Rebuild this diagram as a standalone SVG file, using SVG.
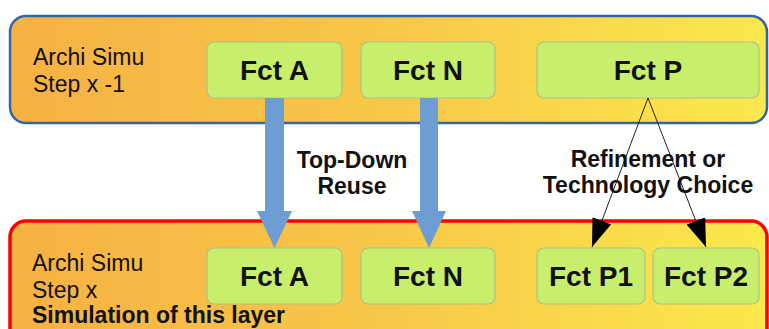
<svg xmlns="http://www.w3.org/2000/svg" width="769" height="329" viewBox="0 0 769 329">
<defs>
<linearGradient id="gOrange" x1="0" y1="0" x2="1" y2="0">
<stop offset="0" stop-color="#f6b143"/>
<stop offset="0.5" stop-color="#f8c848"/>
<stop offset="1" stop-color="#fbe94c"/>
</linearGradient>
<marker id="ah" markerUnits="userSpaceOnUse" markerWidth="30" markerHeight="22" refX="28" refY="10" orient="auto" viewBox="0 0 30 22">
<path d="M0,0 L28,10 L0,20 z" fill="#000"/>
</marker>
<style>
.layer{fill:url(#gOrange);}
.top{stroke:#3465a4;stroke-width:2.5;}
.bot{stroke:#ff0000;stroke-width:3.5;}
.fct rect{fill:#c8ef6c;stroke:#a8c28a;stroke-width:1.2;}
.fct text{font-family:"Liberation Sans",Arial,sans-serif;font-weight:bold;font-size:28px;text-anchor:middle;fill:#111;}
.lbl{font-family:"Liberation Sans",Arial,sans-serif;font-size:23px;fill:#111;}
.b{font-weight:bold;}
.mid{text-anchor:middle;}
.big{fill:#6d9dd3;}
.thin{stroke:#222;stroke-width:1;fill:none;marker-end:url(#ah);}
</style>
</defs>
<rect width="769" height="329" fill="#ffffff"/>
<g id="layerTop">
<rect class="layer top" x="10" y="16" width="757" height="107" rx="16"/>
<text class="lbl" x="33" y="65">Archi Simu</text>
<text class="lbl" x="33" y="92">Step x -1</text>
</g>
<g id="layerBottom">
<rect class="layer bot" x="10" y="221" width="757" height="130" rx="16"/>
<text class="lbl" x="32" y="271">Archi Simu</text>
<text class="lbl" x="32" y="298">Step x</text>
<text class="lbl b" x="32" y="323">Simulation of this layer</text>
</g>
<g id="fctA_top" class="fct"><rect x="207" y="42" width="135" height="56" rx="7"/><text x="274.5" y="80">Fct A</text></g>
<g id="fctN_top" class="fct"><rect x="361" y="42" width="134" height="56" rx="7"/><text x="428" y="80">Fct N</text></g>
<g id="fctP_top" class="fct"><rect x="537" y="42" width="222" height="56" rx="7"/><text x="648" y="80">Fct P</text></g>
<g id="fctA_bot" class="fct"><rect x="207" y="248" width="135" height="56" rx="7"/><text x="274.5" y="286">Fct A</text></g>
<g id="fctN_bot" class="fct"><rect x="361" y="248" width="134" height="56" rx="7"/><text x="428" y="286">Fct N</text></g>
<g id="fctP1_bot" class="fct"><rect x="537" y="248" width="108" height="56" rx="7"/><text x="591" y="286">Fct P1</text></g>
<g id="fctP2_bot" class="fct"><rect x="653" y="248" width="106" height="56" rx="7"/><text x="706" y="286">Fct P2</text></g>
<g id="connectors">
<polygon class="big" points="265,98 284,98 284,211 292,211 274.5,248 257,211 265,211"/>
<polygon class="big" points="420,98 438,98 438,211 446,211 429,248 412,211 420,211"/>
<line class="thin" x1="648" y1="98" x2="592" y2="247"/>
<line class="thin" x1="648" y1="98" x2="706" y2="247"/>
</g>
<g id="labels">
<text class="lbl b mid" x="352" y="168">Top-Down</text>
<text class="lbl b mid" x="352" y="194">Reuse</text>
<text class="lbl b mid" x="648" y="167">Refinement or</text>
<text class="lbl b mid" x="648" y="193">Technology Choice</text>
</g>
</svg>
